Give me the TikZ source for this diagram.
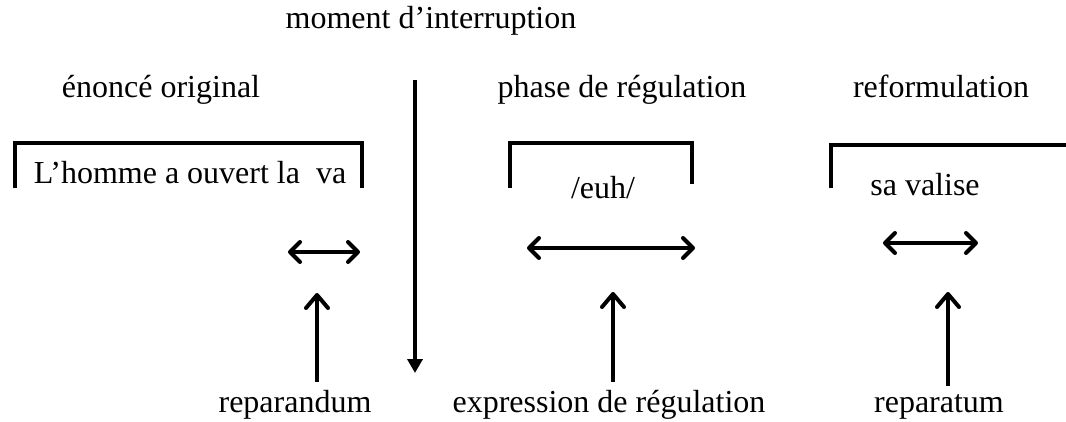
\documentclass[tikz,border=0pt]{standalone}
\usepackage{fontspec}
\setmainfont{Liberation Serif}
\usetikzlibrary{arrows.meta}
\begin{document}
\begin{tikzpicture}[x=1pt,y=-1pt,
	txt/.style={anchor=base,font=\fontsize{32}{38}\selectfont,inner sep=0pt},
	bracket/.style={line width=4.5pt},
	pointer/.style={line width=4pt,-{Straight Barb[round,length=13pt,width=22pt]}},
	span/.style={line width=4pt,{Straight Barb[round,length=10pt,width=20pt]}-{Straight Barb[round,length=10pt,width=20pt]}}]
	\useasboundingbox (0,0) rectangle (1066,421);
	% moment d'interruption
	\node[txt] (moment) at (431,28) {moment d’interruption};
	\coordinate (cut1) at (415,80);
	\coordinate (cut2) at (415,373);
	\draw[line width=4pt,-{Triangle[length=14pt,width=15pt]}] (cut1) -- (cut2);
	% en-tetes
	\node[txt] (orig) at (161,97) {énoncé original};
	\node[txt] (phase) at (622,97) {phase de régulation};
	\node[txt] (reform) at (941,97) {reformulation};
	% crochets
	\draw[bracket] (15,188) |- (362,143) -- (362,188);
	\draw[bracket] (510,188) |- (692,143) -- (692,184);
	\draw[bracket] (831,188) |- (1066,145);
	\node[txt] (va) at (190,183) {L’homme a ouvert la \ va};
	\node[txt] (euh) at (603,198) {/euh/};
	\node[txt] (valise) at (925,195) {sa valise};
	% etendues
	\coordinate (a1) at (288,252);
	\coordinate (b1) at (360,252);
	\coordinate (a2) at (527,248);
	\coordinate (b2) at (695,248);
	\coordinate (a3) at (883,243);
	\coordinate (b3) at (978,243);
	\draw[span] (a1) -- (b1);
	\draw[span] (a2) -- (b2);
	\draw[span] (a3) -- (b3);
	% etiquettes du bas
	\node[txt] (reparandum) at (295,412) {reparandum};
	\node[txt] (expr) at (609,412) {expression de régulation};
	\node[txt] (reparatum) at (939,412) {reparatum};
	\coordinate (t1) at (317,293);
	\coordinate (t2) at (613,292);
	\coordinate (t3) at (948,292);
	\draw[pointer] (reparandum.north -| t1) ++(0,-8) -- (t1);
	\draw[pointer] (expr.north -| t2) ++(0,-8) -- (t2);
	\draw[pointer] (reparatum.north -| t3) ++(0,-8) -- (t3);
\end{tikzpicture}
\end{document}
